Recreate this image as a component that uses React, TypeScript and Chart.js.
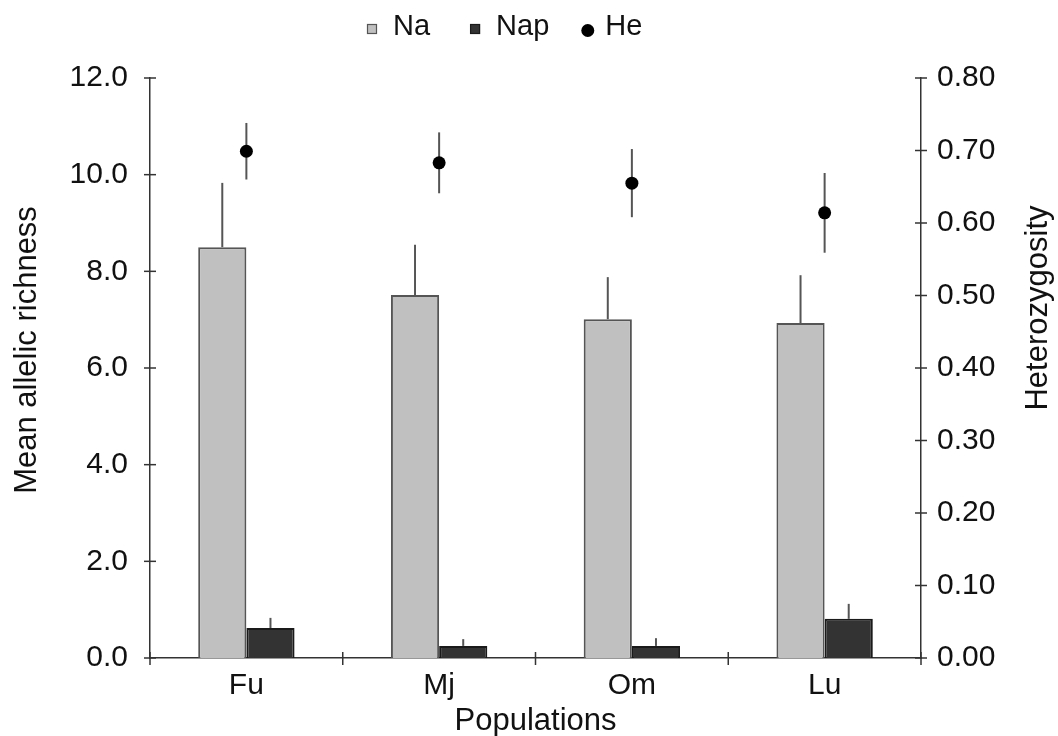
import React, { useEffect, useRef } from "react";
import { Chart, registerables } from "chart.js";

Chart.register(...registerables);

// Populations and their summary statistics
const populations = ["Fu", "Mj", "Om", "Lu"];
const naMean = [8.5, 7.51, 7.01, 6.93];
const naErr = [1.33, 1.04, 0.87, 0.99];
const napMean = [0.62, 0.25, 0.25, 0.81];
const napErr = [0.21, 0.14, 0.16, 0.31];
const heMean = [0.699, 0.683, 0.655, 0.614];
const heErr = [0.039, 0.042, 0.047, 0.055];

// Axis ticks
const richnessTicks = [0, 2, 4, 6, 8, 10, 12];
const heteroTicks = [0, 0.1, 0.2, 0.3, 0.4, 0.5, 0.6, 0.7, 0.8];

const FONT = "'Liberation Sans', Arial, Helvetica, sans-serif";
const NA_FILL = "#c0c0c0";
const NA_EDGE = "#555555";
const NAP_FILL = "#333333";
const NAP_EDGE = "#1a1a1a";
const AXIS = "#333333";
const TEXT = "#111111";

const chartDecorations = {
  id: "chartDecorations",
  beforeDatasetsDraw(chart: any) {
    const { ctx } = chart;
    const y = chart.scales.y;
    const y1 = chart.scales.y1;
    const line = (x: number, a: number, b: number) => {
      ctx.beginPath();
      ctx.moveTo(x, a);
      ctx.lineTo(x, b);
      ctx.stroke();
    };
    ctx.save();
    ctx.strokeStyle = "#555555";
    ctx.lineWidth = 2;
    chart.getDatasetMeta(0).data.forEach((bar: any, i: number) => {
      line(bar.x, y.getPixelForValue(naMean[i]), y.getPixelForValue(naMean[i] + naErr[i]));
    });
    chart.getDatasetMeta(1).data.forEach((bar: any, i: number) => {
      line(bar.x, y.getPixelForValue(napMean[i]), y.getPixelForValue(napMean[i] + napErr[i]));
    });
    chart.getDatasetMeta(2).data.forEach((pt: any, i: number) => {
      line(pt.x, y1.getPixelForValue(heMean[i] - heErr[i]), y1.getPixelForValue(heMean[i] + heErr[i]));
    });
    ctx.restore();
  },
  afterDraw(chart: any) {
    const { ctx, chartArea } = chart;
    const { left, right, top, bottom } = chartArea;
    const y = chart.scales.y;
    const y1 = chart.scales.y1;
    ctx.save();

    // tick marks crossing the axis lines
    ctx.strokeStyle = AXIS;
    ctx.lineWidth = 1.5;
    const seg = (x0: number, y0: number, x2: number, y2: number) => {
      ctx.beginPath();
      ctx.moveTo(x0, y0);
      ctx.lineTo(x2, y2);
      ctx.stroke();
    };
    richnessTicks.forEach((v) => {
      const p = y.getPixelForValue(v);
      seg(left - 6, p, left + 6, p);
    });
    heteroTicks.forEach((v) => {
      const p = y1.getPixelForValue(v);
      seg(right - 6, p, right + 6, p);
    });
    const step = (right - left) / populations.length;
    for (let i = 0; i <= populations.length; i++) {
      const x = left + i * step;
      seg(x, bottom - 6, x, bottom + 7);
    }

    // axis titles
    ctx.fillStyle = TEXT;
    ctx.font = `31px ${FONT}`;
    ctx.textAlign = "center";
    ctx.textBaseline = "alphabetic";
    ctx.fillText("Populations", (left + right) / 2, 730);

    ctx.save();
    ctx.translate(36, (top + bottom) / 2 - 18);
    ctx.rotate(-Math.PI / 2);
    ctx.fillText("Mean allelic richness", 0, 0);
    ctx.restore();

    ctx.save();
    ctx.translate(1047, (top + bottom) / 2 - 60);
    ctx.rotate(-Math.PI / 2);
    ctx.fillText("Heterozygosity", 0, 0);
    ctx.restore();

    // legend
    ctx.font = `29px ${FONT}`;
    ctx.textAlign = "left";
    const items = [
      { label: "Na", kind: "box", fill: NA_FILL, edge: NA_EDGE },
      { label: "Nap", kind: "box", fill: NAP_FILL, edge: NAP_EDGE },
      { label: "He", kind: "dot", fill: "#000000", edge: "#000000" },
    ];
    const itemGaps = [40, 32];
    let x = left + 217;
    items.forEach((it, i) => {
      let textX: number;
      if (it.kind === "box") {
        ctx.fillStyle = it.fill;
        ctx.fillRect(x, 24, 10, 10);
        ctx.strokeStyle = it.edge;
        ctx.lineWidth = 1.2;
        ctx.strokeRect(x + 0.5, 24.5, 9, 9);
        textX = x + 26;
      } else {
        ctx.fillStyle = it.fill;
        ctx.beginPath();
        ctx.arc(x + 6.5, 30.5, 6.5, 0, Math.PI * 2);
        ctx.fill();
        textX = x + 24;
      }
      ctx.fillStyle = TEXT;
      ctx.fillText(it.label, textX, 35);
      x = textX + ctx.measureText(it.label).width + (itemGaps[i] || 0);
    });
    ctx.restore();
  },
};

export default function App() {
  const canvasRef = useRef<HTMLCanvasElement | null>(null);

  useEffect(() => {
    if (!canvasRef.current) return;
    const chart = new Chart(canvasRef.current, {
      type: "bar",
      data: {
        labels: populations,
        datasets: [
          {
            type: "bar",
            label: "Na",
            data: naMean,
            backgroundColor: NA_FILL,
            borderColor: NA_EDGE,
            borderWidth: 2,
            yAxisID: "y",
            categoryPercentage: 0.5,
            barPercentage: 1.0,
            order: 2,
          },
          {
            type: "bar",
            label: "Nap",
            data: napMean,
            backgroundColor: NAP_FILL,
            borderColor: NAP_EDGE,
            borderWidth: 2,
            yAxisID: "y",
            categoryPercentage: 0.5,
            barPercentage: 1.0,
            order: 2,
          },
          {
            type: "line",
            label: "He",
            data: heMean,
            showLine: false,
            pointRadius: 6.5,
            pointHoverRadius: 6.5,
            pointBackgroundColor: "#000000",
            pointBorderWidth: 0,
            borderColor: "#000000",
            yAxisID: "y1",
            order: 1,
          },
        ],
      },
      options: {
        animation: false,
        responsive: true,
        maintainAspectRatio: false,
        layout: { padding: { top: 78, left: 0, right: 0, bottom: 0 } },
        plugins: {
          legend: { display: false },
          tooltip: { enabled: false },
        },
        scales: {
          x: {
            grid: { display: false },
            border: { display: true, color: AXIS, width: 1.5 },
            ticks: {
              color: TEXT,
              font: { family: FONT, size: 30 },
              padding: 2,
            },
            afterFit: (s: any) => {
              s.height = 78;
            },
          },
          y: {
            position: "left",
            min: 0,
            max: 12,
            grid: { display: false },
            border: { display: true, color: AXIS, width: 1.5 },
            ticks: {
              color: TEXT,
              font: { family: FONT, size: 30 },
              padding: 14,
              callback: (v: any) => Number(v).toFixed(1),
            },
            afterBuildTicks: (s: any) => {
              s.ticks = richnessTicks.map((value) => ({ value }));
            },
            afterFit: (s: any) => {
              s.width = 150;
            },
          },
          y1: {
            position: "right",
            min: 0,
            max: 0.8,
            grid: { display: false },
            border: { display: true, color: AXIS, width: 1.5 },
            ticks: {
              color: TEXT,
              font: { family: FONT, size: 30 },
              padding: 8,
              callback: (v: any) => Number(v).toFixed(2),
            },
            afterBuildTicks: (s: any) => {
              s.ticks = heteroTicks.map((value) => ({ value }));
            },
            afterFit: (s: any) => {
              s.width = 137;
            },
          },
        },
      },
      plugins: [chartDecorations],
    } as any);
    return () => chart.destroy();
  }, []);

  return (
    <div style={{ position: "absolute", left: 0, top: 0, width: 1058, height: 736, background: "#ffffff" }}>
      <canvas ref={canvasRef} />
    </div>
  );
}
